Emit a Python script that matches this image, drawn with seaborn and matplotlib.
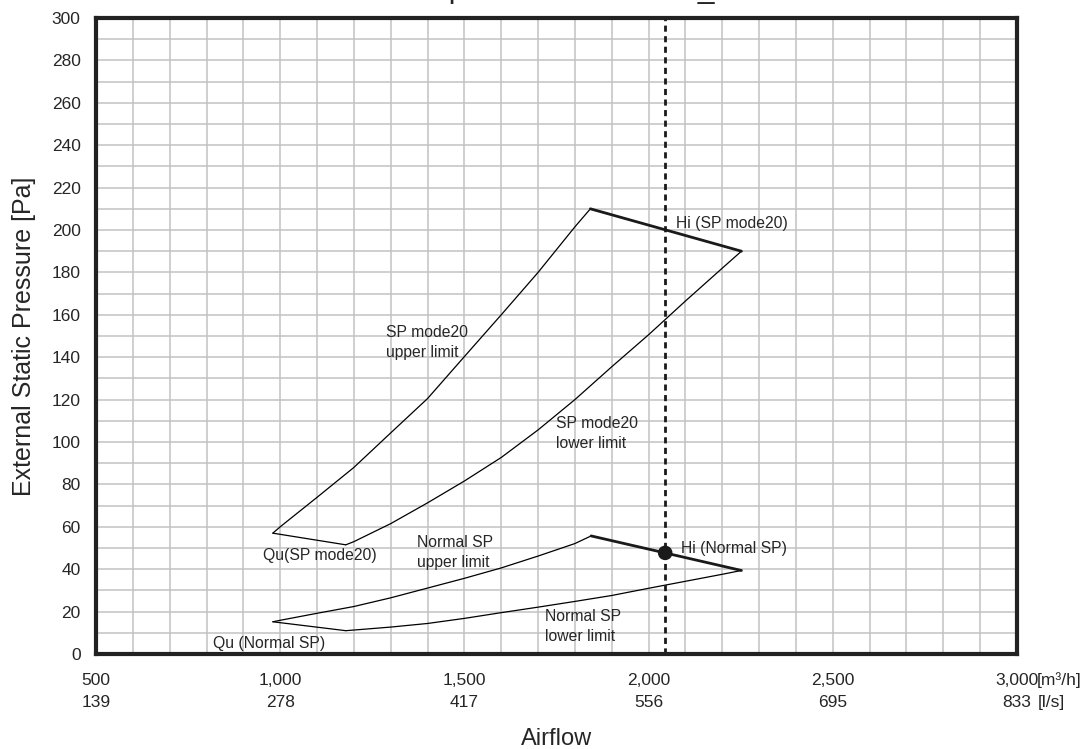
import numpy as np
import matplotlib
matplotlib.use("Agg")
import matplotlib.pyplot as plt
import seaborn as sns

# ── Data ─────────────────────────────────────────────────────
sp20_qu_x = [980, 1178]
sp20_qu_y = [57, 51.5]
sp20_upper_x = [980, 1000, 1100, 1200, 1300, 1400, 1500, 1600, 1700, 1800, 1842]
sp20_upper_y = [57, 60, 73.9, 88, 104.3, 120.5, 140.3, 160, 180, 201.5, 210]
sp20_lower_x = [1178, 1200, 1300, 1400, 1500, 1600, 1700, 1800, 1900, 2000, 2100, 2200, 2252]
sp20_lower_y = [51.5, 53, 61.5, 71.3, 81.6, 92.7, 105.7, 120, 135.5, 150.6, 166.5, 182, 190]
sp20_hi_x = [1842, 2252]
sp20_hi_y = [210, 190]

norm_qu_x = [980, 1178]
norm_qu_y = [15.2, 11]
norm_upper_x = [980, 1000, 1100, 1200, 1300, 1400, 1500, 1600, 1700, 1800, 1844]
norm_upper_y = [15.2, 15.9, 19.2, 22.4, 26.5, 31.1, 35.7, 40.6, 46.2, 52.1, 55.7]
norm_lower_x = [1178, 1200, 1300, 1400, 1500, 1600, 1700, 1800, 1900, 2000, 2100, 2200, 2252]
norm_lower_y = [11, 11.3, 12.7, 14.4, 16.8, 19.5, 22.1, 24.8, 27.6, 31, 34.3, 37.6, 39.4]
norm_hi_x = [1844, 2252]
norm_hi_y = [55.7, 39.4]

rated_x = 2045
rated_y = 47.7

m3h_ticks = [500, 1000, 1500, 2000, 2500, 3000]
m3h_labels = ["500", "1,000", "1,500", "2,000", "2,500", "3,000"]
ls_labels = ["139", "278", "417", "556", "695", "833"]

# ── Style ─────────────────────────────────────────────────────
sns.set_style("white")
plt.rcParams["font.family"] = ["Liberation Sans", "DejaVu Sans"]
TICK_FS = 12.5

fig = plt.figure(figsize=(10.89, 7.49), dpi=100)
ax = fig.add_axes([96 / 1089, 1 - 654 / 749, (1017 - 96) / 1089, (654 - 18) / 749])

LW = 0.9
HI_LW = 2.0
for xs, ys in [(sp20_qu_x, sp20_qu_y), (sp20_upper_x, sp20_upper_y),
               (sp20_lower_x, sp20_lower_y),
               (norm_qu_x, norm_qu_y), (norm_upper_x, norm_upper_y),
               (norm_lower_x, norm_lower_y)]:
    sns.lineplot(x=xs, y=ys, sort=False, estimator=None, color="black",
                 lw=LW, ax=ax)
for xs, ys in [(sp20_hi_x, sp20_hi_y), (norm_hi_x, norm_hi_y)]:
    sns.lineplot(x=xs, y=ys, sort=False, estimator=None, color="#1a1a1a",
                 lw=HI_LW, ax=ax)

ax.axvline(rated_x, color="#1a1a1a", lw=2.0, ls=(0, (2.2, 1.6)), zorder=3)
sns.scatterplot(x=[rated_x], y=[rated_y], s=110, color="#1a1a1a",
                edgecolor="none", ax=ax, zorder=4)

# ── Axes ──────────────────────────────────────────────────────
ax.set_xlim(500, 3000)
ax.set_ylim(0, 300)
ax.set_xticks(m3h_ticks)
ax.set_xticks(np.arange(500, 3001, 100), minor=True)
ax.set_yticks(np.arange(0, 301, 20))
ax.set_yticks(np.arange(0, 301, 10), minor=True)
ax.set_xticklabels([f"{a}\n{b}" for a, b in zip(m3h_labels, ls_labels)],
                   fontsize=TICK_FS, linespacing=1.55)
ax.tick_params(axis="both", which="both", length=0)
ax.tick_params(axis="x", pad=14)
ax.tick_params(axis="y", pad=11, labelsize=12.5)
ax.grid(which="both", color="#c2c2c2", lw=1.1)
ax.set_axisbelow(True)
for s in ax.spines.values():
    s.set_color("#222222")
    s.set_linewidth(3.0)
    s.set_zorder(5)

ax.set_xlabel("Airflow", fontsize=17, labelpad=13)
ax.set_ylabel("External Static Pressure [Pa]", fontsize=18, labelpad=11)

# ── Annotations ───────────────────────────────────────────────
FS = 11.3
LS = 1.4
ax.text(1288, 147, "SP mode20\nupper limit", fontsize=FS, va="center", linespacing=LS)
ax.text(1750, 104, "SP mode20\nlower limit", fontsize=FS, va="center", linespacing=LS)
ax.text(2074, 203, "Hi (SP mode20)", fontsize=FS, va="center")
ax.text(1370, 48, "Normal SP\nupper limit", fontsize=FS, va="center", linespacing=LS)
ax.text(1719, 13, "Normal SP\nlower limit", fontsize=FS, va="center", linespacing=LS)
ax.text(2089, 50, "Hi (Normal SP)", fontsize=FS, va="center")
ax.text(953, 46.5, "Qu(SP mode20)", fontsize=FS, va="center")
ax.text(818, 5, "Qu (Normal SP)", fontsize=FS, va="center")

fig.text(1037 / 1089, 1 - 680 / 749, "[m³/h]", fontsize=TICK_FS,
         va="center", ha="left")
fig.text(1038 / 1089, 1 - 702 / 749, "[l/s]", fontsize=TICK_FS,
         va="center", ha="left")

# title sits mostly above the canvas, as in the source image
fig.text(0.489, 1 + 2 / 749, "Airflow performance curve_", fontsize=21.5,
         ha="center", va="baseline")

fig.savefig("out.png", dpi=100)
